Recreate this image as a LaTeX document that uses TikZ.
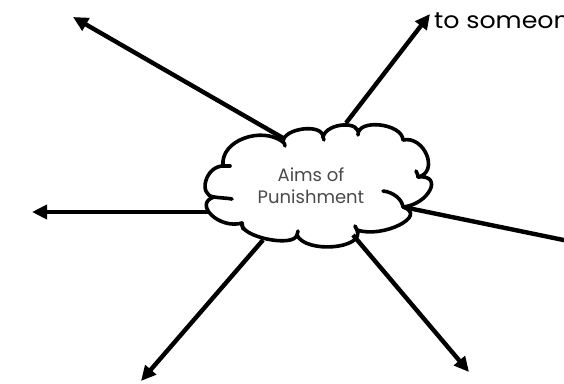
\documentclass[tikz,border=0pt]{standalone}
\usepackage{fontspec}
\setmainfont{Poppins}
\newfontfamily\widefont[FakeStretch=1.1]{Poppins}
\usetikzlibrary{arrows.meta}
\definecolor{cloudtxt}{HTML}{4A4A4A}
\tikzset{
  cloudline/.style={line width=3.6pt, line join=round, line cap=round},
  spoke/.style={line width=4.4pt, -{Triangle[length=15pt,width=14pt]}},
  spokeplain/.style={line width=4.4pt},
}
\begin{document}
\begin{tikzpicture}[x=1pt,y=-1pt]
\useasboundingbox (0,0) rectangle (564,383);
\clip (0,0) rectangle (564,383);
% cloud outline
\draw[cloudline]
 (283,142) .. controls (283,128) and (323,123) .. (323,137)
 .. controls (326.7,122.3) and (361.7,120.3) .. (358,135)
 .. controls (357.3,118.3) and (402.3,123.3) .. (403,140)
 .. controls (424.6,135.3) and (439.6,172.3) .. (418,177)
 .. controls (444,174.3) and (429,204.3) .. (403,207)
 .. controls (428.7,215.7) and (382.7,238.7) .. (357,230)
 .. controls (365.4,248.9) and (305.4,253.9) .. (297,235)
 .. controls (293.3,248.3) and (238.3,236.3) .. (242,223)
 .. controls (219,229.7) and (193,203.7) .. (214,197)
 .. controls (197.6,195.1) and (205.6,166.1) .. (223,166)
 .. controls (220,140) and (262,126) .. (283,142) -- cycle;
% inner arcs of the cloud
\draw[cloudline] (383,191) .. controls (393,192) and (402,199) .. (403,207);
\draw[cloudline] (214,197) .. controls (220,198) and (227,198) .. (232,199);
\draw[cloudline] (223,166) .. controls (225,166) and (227,166) .. (230,166);
\draw[cloudline] (418,177) .. controls (418,175) and (417,173) .. (416,171);
\draw[cloudline] (283,142) .. controls (284,143) and (285,144) .. (285,146);
\draw[cloudline] (323,137) -- (324,140);
\draw[cloudline] (357,230) -- (355,226);
\draw[cloudline] (297,235) -- (298,231);
\draw[cloudline] (242,223) -- (243,229);
% text
\node[font=\fontsize{18}{22}\selectfont, text=cloudtxt, align=center, inner sep=0pt] (cloud) at (311,186) {Aims of\\Punishment};
\node[font=\widefont\fontsize{23}{27}\selectfont, anchor=base west, inner sep=0pt] (topnote) at (434,28) {to someone};
% spoke coordinates
\coordinate (s1) at (283,138);
\coordinate (t1) at (73,17);
\coordinate (s2) at (346,123);
\coordinate (t2) at (430,14);
\coordinate (s3) at (208,212);
\coordinate (t3) at (32,212);
\coordinate (s4) at (408,208);
\coordinate (t4) at (600,247.5);
\coordinate (s5) at (263,240);
\coordinate (t5) at (141,381);
\coordinate (s6) at (353,235);
\coordinate (t6) at (469,372);
\draw[spoke] (s1) -- (t1);
\draw[spoke] (s2) -- (t2);
\draw[spoke] (s3) -- (t3);
\draw[spokeplain] (s4) -- (t4);
\draw[spoke] (s5) -- (t5);
\draw[spoke] (s6) -- (t6);
\end{tikzpicture}
\end{document}
